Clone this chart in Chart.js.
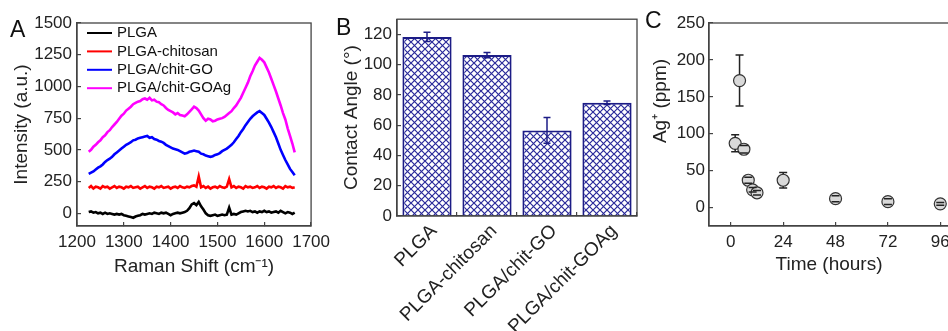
<!DOCTYPE html>
<html>
<head>
<meta charset="utf-8">
<script src="https://cdn.jsdelivr.net/npm/chart.js@4.4.1/dist/chart.umd.min.js"></script>
<style>
  html, body { margin: 0; padding: 0; background: #fff; overflow: hidden; width: 948px; height: 331px; }
  canvas { position: absolute; top: 0; }
  #chartA { left: 0; }
  #chartB { left: 320px; }
  #chartC { left: 640px; }
</style>
</head>
<body>
<canvas id="chartA" width="340" height="331"></canvas>
<canvas id="chartB" width="320" height="331"></canvas>
<canvas id="chartC" width="340" height="331"></canvas>
<script>
// ---- panel A: Raman spectra ----
const ramanShift = [
  1225, 1230, 1235, 1240, 1245, 1250, 1255, 1260, 1265, 1270,
  1275, 1280, 1285, 1290, 1295, 1300, 1305, 1310, 1315, 1320,
  1325, 1330, 1335, 1340, 1345, 1350, 1355, 1360, 1365, 1370,
  1375, 1380, 1385, 1390, 1395, 1400, 1405, 1410, 1415, 1420,
  1425, 1430, 1435, 1440, 1445, 1450, 1455, 1460, 1465, 1470,
  1475, 1480, 1485, 1490, 1495, 1500, 1505, 1510, 1515, 1520,
  1525, 1530, 1535, 1540, 1545, 1550, 1555, 1560, 1565, 1570,
  1575, 1580, 1585, 1590, 1595, 1600, 1605, 1610, 1615, 1620,
  1625, 1630, 1635, 1640, 1645, 1650, 1655, 1660, 1665
];
const plga = [
  10, 15, 5, 10, 0, 5, -5, 5, -5, 0,
  -5, -10, -5, -10, -5, -15, -20, -25, -30, -35,
  -25, -20, -15, -5, -10, -5, 0, -5, 5, 0,
  -5, 5, 0, 5, -5, -15, -5, 0, 5, 0,
  5, 10, 20, 40, 70, 80, 65, 90, 55, 30,
  0, -15, -20, -15, -10, -20, -15, -10, -15, -10,
  45, -10, -5, -10, 0, 10, 15, 20, 15, 20,
  10, 15, 5, 15, 10, 20, 10, 15, 5, 10,
  15, 5, 20, 10, 0, 10, 5, -5, 5
];
const plgaChitosan = [
  200, 215, 195, 210, 205, 195, 215, 205, 210, 195,
  205, 215, 200, 210, 205, 195, 210, 205, 215, 200,
  205, 210, 195, 205, 215, 200, 210, 205, 195, 210,
  205, 215, 200, 205, 210, 195, 205, 210, 200, 215,
  205, 200, 210, 205, 215, 220, 210, 290, 205, 215,
  200, 210, 195, 205, 210, 200, 215, 205, 200, 210,
  270, 205, 215, 200, 210, 205, 195, 215, 205, 210,
  200, 205, 215, 200, 210, 205, 195, 210, 205, 215,
  200, 210, 205, 195, 215, 205, 210, 200, 205
];
const chitGO = [
  310, 320, 330, 345, 360, 370, 385, 405, 420, 430,
  445, 465, 480, 495, 510, 525, 540, 550, 560, 575,
  580, 590, 595, 600, 605, 610, 595, 600, 585, 580,
  570, 565, 555, 540, 530, 520, 510, 505, 500, 490,
  480, 470, 475, 485, 490, 495, 490, 485, 470, 465,
  455, 450, 445, 450, 460, 465, 475, 490, 500, 510,
  525, 540, 560, 585, 610, 640, 665, 695, 720, 745,
  765, 780, 795, 805, 790, 775, 745, 715, 680, 640,
  600, 550, 500, 460, 420, 385, 350, 325, 300
];
const chitGOAg = [
  485, 500, 525, 540, 560, 575, 600, 615, 640, 655,
  680, 700, 720, 745, 770, 785, 810, 825, 840, 860,
  870, 880, 885, 900, 905, 895, 910, 890, 895, 880,
  875, 860, 850, 830, 815, 805, 795, 780, 790, 775,
  770, 765, 780, 800, 820, 840, 830, 810, 780, 750,
  730, 745, 740, 725, 730, 740, 745, 750, 760, 775,
  790, 805, 830, 850, 880, 910, 950, 990, 1030, 1080,
  1120, 1165, 1195, 1225, 1210, 1190, 1150, 1110, 1060, 1010,
  960, 905, 850, 790, 740, 670, 610, 550, 480
];
const ramanTicks = [1200, 1300, 1400, 1500, 1600, 1700];
const intensityTicks = [0, 250, 500, 750, 1000, 1250, 1500];

// ---- panel B: contact angle ----
const samples = ['PLGA', 'PLGA-chitosan', 'PLGA/chit-GO', 'PLGA/chit-GOAg'];
const contactAngle = [118.3, 106.3, 56.5, 74.8];
const contactErr = [3, 1.7, 8.5, 1.2];
const angleTicks = [0, 20, 40, 60, 80, 100, 120];

// ---- panel C: Ag+ release ----
const hours = [2, 4, 6, 8, 10, 12, 24, 48, 72, 96];
const silver = [87, 172, 79, 37, 24, 20, 37, 12, 8, 5];
const silverErr = [11.5, 34.5, 5, 4, 3, 3, 10.5, 4, 4, 2];
const hourTicks = [0, 24, 48, 72, 96];
const ppmTicks = [0, 50, 100, 150, 200, 250];

Chart.defaults.font.family = '"Liberation Sans", Arial, sans-serif';
Chart.defaults.color = '#222';
Chart.defaults.animation = false;

const axisColor = '#444';
const tickFont = { size: 17 };
const titleFont = { size: 19 };

function setTicks(list) {
  return function(scale) { scale.ticks = list.map(v => ({ value: v })); };
}

function baseAxis(list, pad) {
  return {
    afterBuildTicks: setTicks(list),
    ticks: { font: tickFont, color: '#222', padding: pad, maxRotation: 0, autoSkip: false, callback: v => String(v) },
    grid: { drawOnChartArea: false, tickLength: -4, color: axisColor, lineWidth: 1.2 },
    border: { color: axisColor, width: 1.3 }
  };
}

// box around plot + panel letter
const frame = {
  id: 'frame',
  afterDraw(chart, args, opts) {
    const { ctx, chartArea: a } = chart;
    ctx.save();
    ctx.strokeStyle = axisColor;
    ctx.lineWidth = 1.3;
    ctx.strokeRect(a.left, a.top, a.right - a.left, a.bottom - a.top);
    ctx.fillStyle = '#111';
    ctx.font = '23px "Liberation Sans", Arial, sans-serif';
    ctx.textBaseline = 'alphabetic';
    ctx.fillText(opts.letter, opts.x, opts.y);
    ctx.restore();
  }
};

// legend drawn inside panel A
const innerLegend = {
  id: 'innerLegend',
  afterDraw(chart) {
    const ctx = chart.ctx;
    ctx.save();
    ctx.font = '15px "Liberation Sans", Arial, sans-serif';
    ctx.textBaseline = 'middle';
    chart.data.datasets.forEach((ds, i) => {
      const y = 33 + i * 18.4;
      ctx.strokeStyle = ds.borderColor;
      ctx.lineWidth = 2;
      ctx.beginPath();
      ctx.moveTo(87, y);
      ctx.lineTo(112, y);
      ctx.stroke();
      ctx.fillStyle = '#111';
      ctx.fillText(ds.label, 117, y);
    });
    ctx.restore();
  }
};

const series = [
  ['PLGA', plga, '#000000'],
  ['PLGA-chitosan', plgaChitosan, '#ff0000'],
  ['PLGA/chit-GO', chitGO, '#0000ff'],
  ['PLGA/chit-GOAg', chitGOAg, '#ff00ff']
];

new Chart(document.getElementById('chartA'), {
  type: 'line',
  data: {
    datasets: series.map(([label, values, color]) => ({
      label: label,
      data: ramanShift.map((x, i) => ({ x: x, y: values[i] })),
      borderColor: color,
      borderWidth: 2.6,
      pointRadius: 0,
      tension: 0
    }))
  },
  options: {
    responsive: false,
    layout: { padding: { left: 0, right: 24, top: 23, bottom: 50 } },
    plugins: {
      legend: { display: false },
      tooltip: { enabled: false },
      frame: { letter: 'A', x: 10, y: 37 }
    },
    scales: {
      x: Object.assign(baseAxis(ramanTicks, 10), {
        type: 'linear', min: 1200, max: 1700,
        title: { display: true, text: 'Raman Shift (cm\u207B\u00B9)', font: titleFont, color: '#222', padding: { top: 0, bottom: 3 } },
        afterFit(s) { s.height = 55; }
      }),
      y: Object.assign(baseAxis(intensityTicks, 9), {
        min: -100, max: 1500,
        title: { display: true, text: 'Intensity (a.u.)', font: titleFont, color: '#222', padding: { top: 10, bottom: 0 } },
        afterFit(s) { s.width = 77; }
      })
    }
  },
  plugins: [frame, innerLegend]
});

// crosshatch fill for bars
function hatch() {
  const c = document.createElement('canvas');
  c.width = 7; c.height = 7;
  const g = c.getContext('2d');
  g.fillStyle = '#ffffff';
  g.fillRect(0, 0, 7, 7);
  g.strokeStyle = '#2a2a9a';
  g.lineWidth = 1.2;
  g.beginPath();
  g.moveTo(0, 0); g.lineTo(7, 7);
  g.moveTo(7, 0); g.lineTo(0, 7);
  g.stroke();
  return g.createPattern(c, 'repeat');
}

const barErrors = {
  id: 'barErrors',
  afterDatasetsDraw(chart) {
    const { ctx, scales: { x, y } } = chart;
    ctx.save();
    ctx.strokeStyle = '#1c1c86';
    ctx.lineWidth = 1.5;
    contactAngle.forEach((v, i) => {
      const px = x.getPixelForValue(i);
      const top = y.getPixelForValue(v + contactErr[i]);
      const bot = y.getPixelForValue(v - contactErr[i]);
      ctx.beginPath();
      ctx.moveTo(px, top); ctx.lineTo(px, bot);
      ctx.moveTo(px - 3.5, top); ctx.lineTo(px + 3.5, top);
      ctx.moveTo(px - 3.5, bot); ctx.lineTo(px + 3.5, bot);
      ctx.stroke();
    });
    ctx.restore();
  }
};

new Chart(document.getElementById('chartB'), {
  type: 'bar',
  data: {
    labels: samples,
    datasets: [{
      data: contactAngle,
      backgroundColor: hatch(),
      borderColor: '#1c1c86',
      borderWidth: 2,
      barPercentage: 0.82,
      categoryPercentage: 1
    }]
  },
  options: {
    responsive: false,
    layout: { padding: { left: 0, right: 3, top: 14, bottom: 0 } },
    plugins: {
      legend: { display: false },
      tooltip: { enabled: false },
      frame: { letter: 'B', x: 16, y: 35 }
    },
    scales: {
      x: {
        ticks: { font: { size: 19 }, color: '#222', autoSkip: false, minRotation: 45, maxRotation: 45, padding: 8, labelOffset: 7 },
        grid: { drawOnChartArea: false, tickLength: -4, color: axisColor, lineWidth: 1.2 },
        border: { color: axisColor, width: 1.3 },
        afterFit(s) { s.height = 115; }
      },
      y: Object.assign(baseAxis(angleTicks, 9), {
        min: 0, max: 130,
        title: { display: true, text: 'Contact Angle (\u00B0)', font: titleFont, color: '#222', padding: { top: 20, bottom: 0 } },
        afterFit(s) { s.width = 77; }
      })
    }
  },
  plugins: [frame, barErrors]
});

const pointErrors = {
  id: 'pointErrors',
  afterDatasetsDraw(chart) {
    const { ctx, scales: { x, y } } = chart;
    const r = 6;
    ctx.save();
    ctx.strokeStyle = '#222';
    ctx.lineWidth = 1.5;
    hours.forEach((h, i) => {
      const px = x.getPixelForValue(h);
      const py = y.getPixelForValue(silver[i]);
      const top = y.getPixelForValue(silver[i] + silverErr[i]);
      const bot = y.getPixelForValue(silver[i] - silverErr[i]);
      ctx.beginPath();
      if (top < py - r) { ctx.moveTo(px, top); ctx.lineTo(px, py - r); }
      if (bot > py + r) { ctx.moveTo(px, py + r); ctx.lineTo(px, bot); }
      ctx.moveTo(px - 4, top); ctx.lineTo(px + 4, top);
      ctx.moveTo(px - 4, bot); ctx.lineTo(px + 4, bot);
      ctx.stroke();
    });
    ctx.restore();
  }
};

const sideTitle = {
  id: 'sideTitle',
  afterDraw(chart) {
    const ctx = chart.ctx;
    ctx.save();
    ctx.translate(21, 101);
    ctx.rotate(-Math.PI / 2);
    ctx.font = '19px "Liberation Sans", Arial, sans-serif';
    ctx.fillStyle = '#222';
    ctx.textAlign = 'center';
    ctx.textBaseline = 'middle';
    ctx.fillText('Ag\u207A (ppm)', 0, 0);
    ctx.restore();
  }
};

new Chart(document.getElementById('chartC'), {
  type: 'scatter',
  data: {
    datasets: [{
      data: hours.map((h, i) => ({ x: h, y: silver[i] })),
      pointRadius: 6,
      pointBackgroundColor: '#d9d9d9',
      pointBorderColor: '#333',
      pointBorderWidth: 1.2
    }]
  },
  options: {
    responsive: false,
    layout: { padding: { left: 0, right: 31, top: 23, bottom: 50 } },
    plugins: {
      legend: { display: false },
      tooltip: { enabled: false },
      frame: { letter: 'C', x: 5, y: 28 }
    },
    scales: {
      x: Object.assign(baseAxis(hourTicks, 10), {
        type: 'linear', min: -10, max: 100,
        title: { display: true, text: 'Time (hours)', font: titleFont, color: '#222', padding: { top: 0, bottom: 5 } },
        afterFit(s) { s.height = 55; }
      }),
      y: Object.assign(baseAxis(ppmTicks, 8), {
        min: -25, max: 250,
        afterFit(s) { s.width = 69; }
      })
    }
  },
  plugins: [frame, pointErrors, sideTitle]
});
</script>
</body>
</html>
